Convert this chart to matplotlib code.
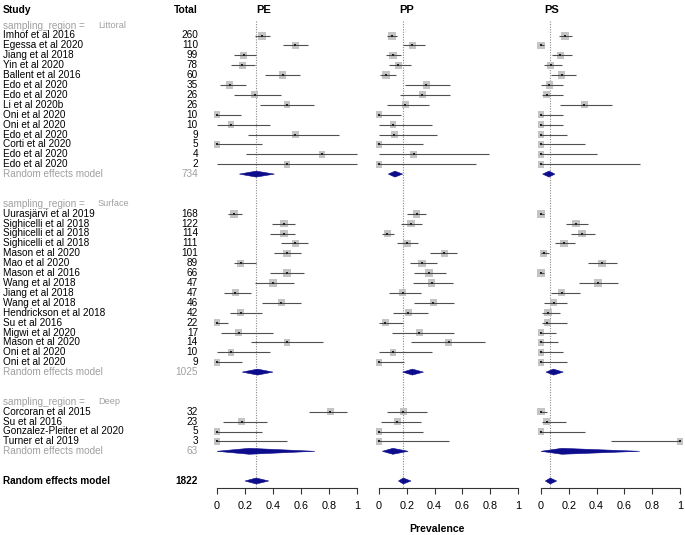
import matplotlib
matplotlib.use('Agg')
import matplotlib.pyplot as plt
from matplotlib.patches import Polygon
import numpy as np

plt.rcParams['font.family'] = ['Liberation Sans', 'DejaVu Sans']

# ---------------- data ----------------
groups = ['Littoral', 'Surface', 'Deep']

littoral_studies = ['Imhof et al 2016', 'Egessa et al 2020', 'Jiang et al 2018', 'Yin et al 2020',
                    'Ballent et al 2016', 'Edo et al 2020', 'Edo et al 2020', 'Li et al 2020b',
                    'Oni et al 2020', 'Oni et al 2020', 'Edo et al 2020', 'Corti et al 2020',
                    'Edo et al 2020', 'Edo et al 2020']
littoral_totals = [260, 110, 99, 78, 60, 35, 26, 26, 10, 10, 9, 5, 4, 2]

surface_studies = ['Uurasjärvi et al 2019', 'Sighicelli et al 2018', 'Sighicelli et al 2018',
                   'Sighicelli et al 2018', 'Mason et al 2020', 'Mao et al 2020', 'Mason et al 2016',
                   'Wang et al 2018', 'Jiang et al 2018', 'Wang et al 2018', 'Hendrickson et al 2018',
                   'Su et al 2016', 'Migwi et al 2020', 'Mason et al 2020', 'Oni et al 2020',
                   'Oni et al 2020']
surface_totals = [168, 122, 114, 111, 101, 89, 66, 47, 47, 46, 42, 22, 17, 14, 10, 9]

deep_studies = ['Corcoran et al 2015', 'Su et al 2016', 'Gonzalez-Pleiter et al 2020', 'Turner et al 2019']
deep_totals = [32, 23, 5, 3]

# PE
pe_est = [0.32, 0.56, 0.19, 0.18, 0.47, 0.09, 0.27, 0.50, 0.00, 0.10, 0.56, 0.00, 0.75, 0.50,
          0.12, 0.48, 0.48, 0.56, 0.50, 0.17, 0.50, 0.40, 0.13, 0.46, 0.17, 0.00, 0.155, 0.50, 0.10, 0.00,
          0.81, 0.175, 0.00, 0.00]
pe_lo = [0.27, 0.47, 0.12, 0.10, 0.34, 0.02, 0.12, 0.31, 0.00, 0.00, 0.22, 0.00, 0.21, 0.00,
         0.08, 0.39, 0.38, 0.46, 0.41, 0.12, 0.38, 0.27, 0.05, 0.32, 0.09, 0.00, 0.03, 0.24, 0.00, 0.00,
         0.66, 0.045, 0.00, 0.00]
pe_hi = [0.38, 0.65, 0.28, 0.27, 0.59, 0.21, 0.46, 0.69, 0.17, 0.38, 0.87, 0.32, 1.00, 1.00,
         0.18, 0.56, 0.56, 0.65, 0.60, 0.28, 0.62, 0.55, 0.24, 0.60, 0.32, 0.08, 0.40, 0.76, 0.38, 0.18,
         0.93, 0.36, 0.32, 0.50]
# PP
pp_est = [0.09, 0.24, 0.10, 0.14, 0.05, 0.34, 0.31, 0.19, 0.00, 0.10, 0.11, 0.00, 0.25, 0.00,
          0.27, 0.23, 0.06, 0.20, 0.47, 0.31, 0.36, 0.38, 0.17, 0.39, 0.21, 0.045, 0.29, 0.50, 0.10, 0.00,
          0.175, 0.13, 0.00, 0.00]
pp_lo = [0.055, 0.17, 0.05, 0.07, 0.01, 0.19, 0.15, 0.06, 0.00, 0.00, 0.00, 0.00, 0.00, 0.00,
         0.20, 0.16, 0.025, 0.13, 0.37, 0.22, 0.25, 0.245, 0.07, 0.255, 0.10, 0.00, 0.09, 0.23, 0.00, 0.00,
         0.06, 0.015, 0.00, 0.00]
pp_hi = [0.13, 0.33, 0.16, 0.23, 0.12, 0.51, 0.51, 0.36, 0.16, 0.38, 0.42, 0.32, 0.79, 0.70,
         0.34, 0.31, 0.11, 0.28, 0.56, 0.42, 0.48, 0.53, 0.30, 0.54, 0.355, 0.17, 0.54, 0.76, 0.38, 0.18,
         0.345, 0.30, 0.32, 0.50]
# PS
ps_est = [0.175, 0.00, 0.14, 0.07, 0.15, 0.06, 0.04, 0.31, 0.00, 0.00, 0.00, 0.00, 0.00, 0.00,
          0.00, 0.25, 0.295, 0.165, 0.02, 0.44, 0.00, 0.41, 0.15, 0.09, 0.05, 0.045, 0.00, 0.00, 0.00, 0.00,
          0.00, 0.04, 0.00, 1.00]
ps_lo = [0.13, 0.00, 0.08, 0.02, 0.07, 0.00, 0.005, 0.14, 0.00, 0.00, 0.00, 0.00, 0.00, 0.00,
         0.00, 0.18, 0.215, 0.10, 0.00, 0.34, 0.00, 0.27, 0.07, 0.025, 0.007, 0.007, 0.00, 0.00, 0.00, 0.00,
         0.00, 0.007, 0.00, 0.50]
ps_hi = [0.225, 0.02, 0.22, 0.15, 0.25, 0.16, 0.16, 0.51, 0.16, 0.16, 0.19, 0.32, 0.40, 0.71,
         0.02, 0.34, 0.39, 0.245, 0.055, 0.55, 0.02, 0.555, 0.28, 0.19, 0.14, 0.19, 0.11, 0.125, 0.16, 0.19,
         0.045, 0.18, 0.32, 1.00]

# random-effects summaries: Littoral, Surface, Deep, Overall
re_totals = [734, 1025, 63, 1822]
pe_re_est = [0.28, 0.29, 0.23, 0.28]
pe_re_lo = [0.16, 0.18, 0.00, 0.20]
pe_re_hi = [0.41, 0.40, 0.70, 0.37]
pp_re_est = [0.115, 0.24, 0.10, 0.175]
pp_re_lo = [0.067, 0.17, 0.024, 0.14]
pp_re_hi = [0.17, 0.32, 0.21, 0.23]
ps_re_est = [0.058, 0.09, 0.15, 0.067]
ps_re_lo = [0.012, 0.036, 0.00, 0.031]
ps_re_hi = [0.10, 0.16, 0.71, 0.113]

panel_names = ['PE', 'PP', 'PS']
tick_values = [0, 0.2, 0.4, 0.6, 0.8, 1]
tick_labels = ['0', '0.2', '0.4', '0.6', '0.8', '1']

# ---------------- layout ----------------
W, H = 685, 535
fig = plt.figure(figsize=(W / 100, H / 100), dpi=100)

row0_px, row_h = 35.5, 9.9
axis_px = 488
y_top = -row0_px / row_h
y_bot = (axis_px - row0_px) / row_h
bottom = (H - axis_px) / H
height = axis_px / H

study_names = littoral_studies + surface_studies + deep_studies
totals = littoral_totals + surface_totals + deep_totals
group_sizes = [len(littoral_studies), len(surface_studies), len(deep_studies)]

rows_header, rows_study, rows_re = [], [], []
r = -1
for n in group_sizes:
    rows_header.append(r)
    r += 1
    for i in range(n):
        rows_study.append(r)
        r += 1
    rows_re.append(r)
    r += 3
row_overall = r
head_row = -2.58

grey_txt = '#a0a0a0'
fs = 7.2

# text column
axt = fig.add_axes([0, bottom, 1, height])
axt.set_xlim(0, W)
axt.set_ylim(y_bot, y_top)
axt.axis('off')
axt.text(3, head_row, 'Study', fontsize=7.4, weight='bold', ha='left', va='center')
axt.text(198, head_row, 'Total', fontsize=7.4, weight='bold', ha='right', va='center')
for g, rh in zip(groups, rows_header):
    axt.text(3, rh, 'sampling_region = ', fontsize=fs, color=grey_txt, ha='left', va='center')
    axt.text(98, rh, g, fontsize=6.6, color=grey_txt, ha='left', va='center')
for name, tot, rr in zip(study_names, totals, rows_study):
    axt.text(3, rr, name, fontsize=fs, ha='left', va='center')
    axt.text(198, rr, str(tot), fontsize=fs, ha='right', va='center')
for tot, rr in zip(re_totals[:3], rows_re):
    axt.text(3, rr, 'Random effects model', fontsize=fs, color=grey_txt, ha='left', va='center')
    axt.text(198, rr, str(tot), fontsize=fs, color=grey_txt, ha='right', va='center')
axt.text(3, row_overall, 'Random effects model', fontsize=fs, weight='bold', ha='left', va='center')
axt.text(198, row_overall, str(re_totals[3]), fontsize=fs, weight='bold', ha='right', va='center')

panel_px = [(217, 357), (379, 518), (541, 680)]
title_x = [0.33, 0.20, 0.08]
est_all = [pe_est, pp_est, ps_est]
lo_all = [pe_lo, pp_lo, ps_lo]
hi_all = [pe_hi, pp_hi, ps_hi]
re_est_all = [pe_re_est, pp_re_est, ps_re_est]
re_lo_all = [pe_re_lo, pp_re_lo, ps_re_lo]
re_hi_all = [pe_re_hi, pp_re_hi, ps_re_hi]

sq_side = [(6.5 + 1.5 * np.sqrt(n / 260)) * 0.72 for n in totals]
diamond_color = '#0c0c8c'
line_color = '#505050'

for k, name in enumerate(panel_names):
    x0, x1 = panel_px[k]
    ax = fig.add_axes([x0 / W, bottom, (x1 - x0) / W, height])
    ax.set_xlim(0, 1)
    ax.set_ylim(y_bot, y_top)
    ax.patch.set_alpha(0)
    for s in ['top', 'right', 'left']:
        ax.spines[s].set_visible(False)
    ax.spines['bottom'].set_color('#333333')
    ax.spines['bottom'].set_linewidth(0.8)
    ax.set_yticks([])
    ax.set_xticks(tick_values)
    ax.set_xticklabels(tick_labels, fontsize=7.8)
    ax.tick_params(axis='x', length=4, width=0.8, color='#333333', pad=5.5)

    ov = re_est_all[k][3]
    ax.plot([ov, ov], [-1.45, y_bot], color='#8a8a8a', lw=0.8,
            linestyle=(0, (1, 1.3)), zorder=1, clip_on=False)

    ests, los, his = est_all[k], lo_all[k], hi_all[k]
    ax.scatter(ests, rows_study, s=[v ** 2 for v in sq_side], marker='s',
               color='#c4c4c4', linewidths=0, zorder=2, clip_on=False)
    ax.hlines(rows_study, los, his, color=line_color, lw=0.8, zorder=3, clip_on=False)
    ax.scatter(ests, rows_study, s=1.2, marker='s', color='#222222', linewidths=0,
               zorder=4, clip_on=False)

    re_rows = rows_re + [row_overall]
    for e, lo, hi, rr in zip(re_est_all[k], re_lo_all[k], re_hi_all[k], re_rows):
        hh = 0.3
        poly = Polygon([(lo, rr), (e, rr - hh), (hi, rr), (e, rr + hh)],
                       closed=True, facecolor=diamond_color, edgecolor=diamond_color,
                       lw=0.4, zorder=5, clip_on=False)
        ax.add_patch(poly)

    ax.text(title_x[k], head_row, name, fontsize=8, weight='bold', ha='center', va='center')

fig.text(437 / W, 1 - 529 / H, 'Prevalence', fontsize=7.6, weight='bold', ha='center', va='center')

fig.savefig('out.png', dpi=100)
